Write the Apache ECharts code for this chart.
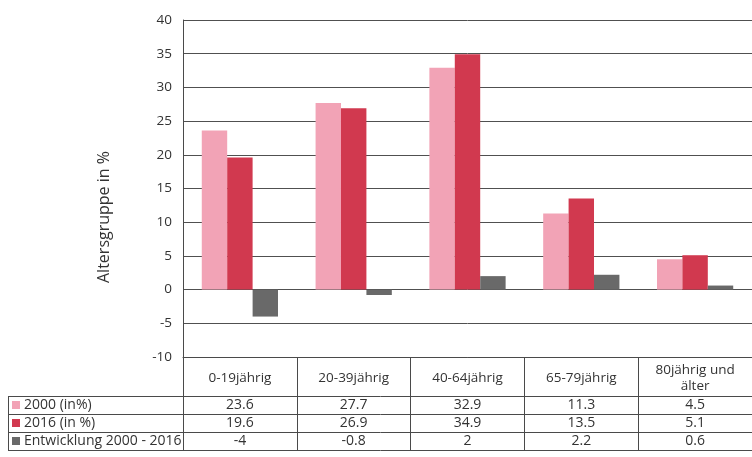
<!DOCTYPE html>
<html>
<head>
<meta charset="utf-8">
<script src="https://cdn.jsdelivr.net/npm/echarts@6/dist/echarts.min.js"></script>
<style>
  html, body { margin: 0; padding: 0; background: #fff; }
  #chart { width: 752px; height: 457px; }
</style>
</head>
<body>
<div id="chart"></div>
<script>
// Altersgruppen 2000 und 2016 (Anteile in %) und ihre Entwicklung
const categories = ['0-19jährig', '20-39jährig', '40-64jährig', '65-79jährig', '80jährig und\nälter'];
const values2000 = [23.6, 27.7, 32.9, 11.3, 4.5];
const values2016 = [19.6, 26.9, 34.9, 13.5, 5.1];
const change = [-4, -0.8, 2, 2.2, 0.6];
const seriesNames = ['2000 (in%)', '2016 (in %)', 'Entwicklung 2000 - 2016'];
const yMin = -10, yMax = 40, yStep = 5;

const colors = ['#f2a3b6', '#d1394f', '#696969'];
const font = '"Open Sans", "Noto Sans", sans-serif';
const lineColor = '#4a4a4a';
const textColor = '#333';

const chart = echarts.init(document.getElementById('chart'), null, { renderer: 'canvas' });

chart.setOption({
  animation: false,
  backgroundColor: '#fff',
  textStyle: { fontFamily: font },
  grid: { left: 183, top: 20, width: 575, height: 337, containLabel: false },
  xAxis: {
    type: 'category',
    data: categories,
    position: 'bottom',
    axisLine: { onZero: false, lineStyle: { color: lineColor, width: 1 } },
    axisTick: { show: true, length: 93, lineStyle: { color: lineColor, width: 1 } },
    axisLabel: {
      interval: 0, margin: 21, verticalAlign: 'middle',
      color: textColor, fontSize: 13.5, lineHeight: 16, fontFamily: font
    },
    splitLine: { show: false }
  },
  yAxis: {
    type: 'value',
    min: yMin, max: yMax, interval: yStep,
    axisLine: { show: true, lineStyle: { color: lineColor, width: 1 } },
    axisTick: { show: false },
    axisLabel: { color: textColor, fontSize: 13.5, margin: 11, fontFamily: font },
    splitLine: { show: true, lineStyle: { color: '#505050', width: 1 } }
  },
  series: [
    { name: seriesNames[0], type: 'bar', data: values2000, itemStyle: { color: colors[0] }, barGap: '0%', barCategoryGap: '33%' },
    { name: seriesNames[1], type: 'bar', data: values2016, itemStyle: { color: colors[1] }, barGap: '0%', barCategoryGap: '33%' },
    { name: seriesNames[2], type: 'bar', data: change, itemStyle: { color: colors[2] }, barGap: '0%', barCategoryGap: '33%' }
  ]
});

// Data table below the plot: rows are built from the series arrays,
// columns follow the category positions of the x axis.
const rows = [values2000, values2016, change];
const tableTop = chart.convertToPixel({ yAxisIndex: 0 }, yMin);
const headerH = 39, rowH = 18;
const tableLeft = 8, tableRight = 760;
const graphic = [];

// y axis title
graphic.push({
  type: 'text', x: 104, y: 217, rotation: Math.PI / 2,
  style: { text: 'Altersgruppe in %', fill: textColor, font: '16px ' + font, align: 'center', verticalAlign: 'middle' }
});

for (let r = 0; r <= rows.length; r++) {
  const y = Math.round(tableTop + headerH + r * rowH) + 0.5;
  graphic.push({ type: 'line', shape: { x1: tableLeft, y1: y, x2: tableRight, y2: y }, style: { stroke: lineColor, lineWidth: 1 } });
}
graphic.push({
  type: 'line',
  shape: { x1: tableLeft + 0.5, y1: Math.round(tableTop + headerH) + 0.5, x2: tableLeft + 0.5, y2: Math.round(tableTop + headerH + rows.length * rowH) + 0.5 },
  style: { stroke: lineColor, lineWidth: 1 }
});

rows.forEach((vals, r) => {
  const cy = tableTop + headerH + r * rowH + rowH / 2;
  graphic.push({ type: 'rect', shape: { x: 12, y: cy - 4, width: 8, height: 8 }, style: { fill: colors[r] } });
  graphic.push({
    type: 'text', x: 24, y: cy,
    style: { text: seriesNames[r], fill: textColor, font: '14px ' + font, align: 'left', verticalAlign: 'middle' }
  });
  vals.forEach((v, i) => {
    const cx = chart.convertToPixel({ xAxisIndex: 0 }, categories[i]);
    graphic.push({
      type: 'text', x: cx, y: cy,
      style: { text: String(v), fill: textColor, font: '14px ' + font, align: 'center', verticalAlign: 'middle' }
    });
  });
});

chart.setOption({ graphic: graphic });
</script>
</body>
</html>
